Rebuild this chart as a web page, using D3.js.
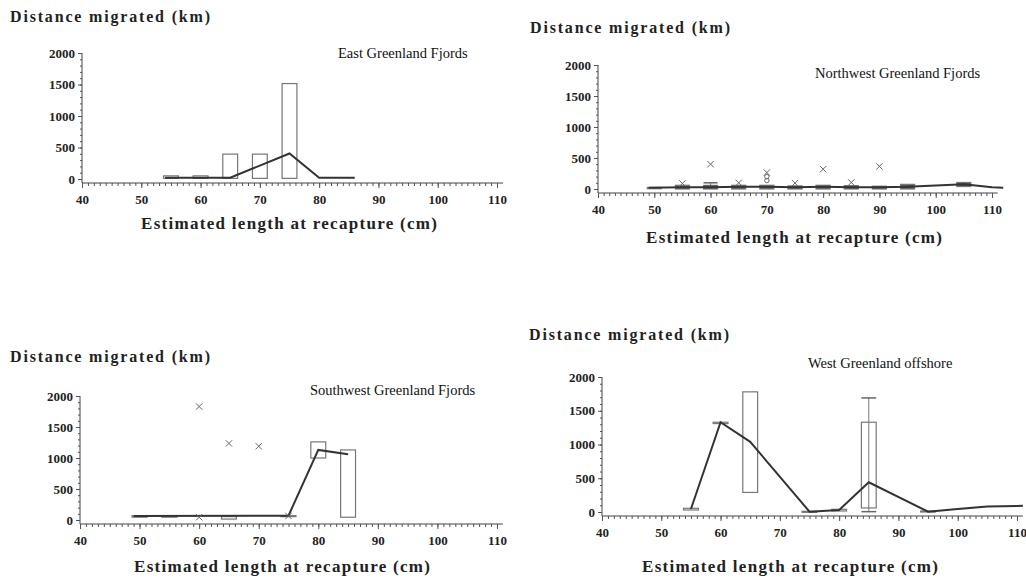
<!DOCTYPE html>
<html>
<head>
<meta charset="utf-8">
<script src="https://cdnjs.cloudflare.com/ajax/libs/d3/7.8.5/d3.min.js"></script>
<style>
body { margin: 0; background: #fff; }
text { font-family: "Liberation Serif", "DejaVu Serif", serif; }
</style>
</head>
<body>
<div id="chart"></div>
<script>
// ticks shared by the four panels
var length_ticks = [40, 50, 60, 70, 80, 90, 100, 110];
var distance_ticks = [0, 500, 1000, 1500, 2000];

// East Greenland Fjords
var east_box_len  = [55, 60, 65, 70, 75];
var east_box_low  = [10, 10, 10, 10, 10];
var east_box_high = [50, 50, 395, 395, 1515];
var east_line_len = [54, 65, 75, 80, 86];
var east_line_val = [20, 20, 405, 20, 20];

// Northwest Greenland Fjords
var nw_box_len  = [50, 55, 60, 65, 70, 75, 80, 85, 90, 95, 105];
var nw_box_low  = [5, 0, 0, 0, 0, 0, 0, 0, 0, 0, 40];
var nw_box_high = [25, 60, 55, 60, 60, 50, 60, 55, 45, 75, 105];
var nw_line_len = [49, 55, 60, 65, 70, 75, 80, 85, 90, 95, 100, 105, 110, 112];
var nw_line_val = [20, 30, 30, 35, 35, 30, 35, 30, 30, 35, 55, 75, 30, 20];
var nw_whisk_len  = [60];
var nw_whisk_low  = [55];
var nw_whisk_high = [100];
var nw_out_len = [55, 60, 65, 70, 75, 80, 85, 90];
var nw_out_val = [90, 400, 100, 265, 95, 320, 105, 365];
var nw_circ_len = [70, 70];
var nw_circ_val = [200, 135];

// Southwest Greenland Fjords
var sw_box_len  = [50, 55, 65, 75, 80, 85];
var sw_box_low  = [45, 45, 15, 60, 1000, 45];
var sw_box_high = [70, 70, 55, 70, 1260, 1130];
var sw_line_len = [49, 75, 80, 85];
var sw_line_val = [65, 70, 1130, 1060];
var sw_out_len = [60, 65, 70, 60, 75];
var sw_out_val = [1830, 1235, 1190, 45, 65];

// West Greenland offshore
var w_box_len  = [55, 60, 65, 75, 80, 85, 95];
var w_box_low  = [30, 1310, 290, 0, 15, 60, 0];
var w_box_high = [55, 1330, 1780, 10, 40, 1330, 15];
var w_whisk_len  = [85];
var w_whisk_low  = [5];
var w_whisk_high = [1690];
var w_line_len = [55, 60, 65, 75, 80, 85, 95, 100, 105, 110, 111];
var w_line_val = [45, 1330, 1040, 5, 30, 440, 5, 45, 80, 90, 93];

var svg = d3.select('#chart')
            .append('svg')
            .attr('width', 1026)
            .attr('height', 582);

var panels = [
  { title: 'East Greenland Fjords', x40: 82, x110: 497, y0: 179, y2000: 53,
    ylab: [10, 22], tit: [338, 58], xlab: [289, 229],
    box_len: east_box_len, box_low: east_box_low, box_high: east_box_high,
    line_len: east_line_len, line_val: east_line_val, box_fill: 'none' },
  { title: 'Northwest Greenland Fjords', x40: 598, x110: 992, y0: 189, y2000: 65,
    ylab: [530, 33], tit: [815, 78], xlab: [794, 243],
    box_len: nw_box_len, box_low: nw_box_low, box_high: nw_box_high,
    line_len: nw_line_len, line_val: nw_line_val,
    whisk_len: nw_whisk_len, whisk_low: nw_whisk_low, whisk_high: nw_whisk_high,
    out_len: nw_out_len, out_val: nw_out_val,
    circ_len: nw_circ_len, circ_val: nw_circ_val, box_fill: '#555' },
  { title: 'Southwest Greenland Fjords', x40: 80, x110: 497, y0: 520, y2000: 396,
    ylab: [10, 362], tit: [310, 395], xlab: [282, 572],
    box_len: sw_box_len, box_low: sw_box_low, box_high: sw_box_high,
    line_len: sw_line_len, line_val: sw_line_val,
    out_len: sw_out_len, out_val: sw_out_val, box_fill: 'none' },
  { title: 'West Greenland offshore', x40: 602, x110: 1017, y0: 512, y2000: 377,
    ylab: [529, 340], tit: [808, 368], xlab: [790, 572],
    box_len: w_box_len, box_low: w_box_low, box_high: w_box_high,
    line_len: w_line_len, line_val: w_line_val,
    whisk_len: w_whisk_len, whisk_low: w_whisk_low, whisk_high: w_whisk_high,
    box_fill: 'none' }
];

var half = 1.25; // half width of a box, in cm

panels.forEach(function(p) {
  var x = d3.scaleLinear().domain([40, 110]).range([p.x40, p.x110]);
  var y = d3.scaleLinear().domain([0, 2000]).range([p.y0, p.y2000]);
  var axis_y = p.y0 + 4;
  var g = svg.append('g');

  // x axis: minor ticks every cm, labels every 10
  g.append('g')
   .attr('transform', 'translate(0,' + axis_y + ')')
   .call(d3.axisBottom(x).tickValues(d3.range(40, 111, 1)).tickSize(3).tickFormat('').tickSizeOuter(0))
   .call(function(a) { a.select('.domain').remove(); });
  g.append('g')
   .attr('class', 'xmaj')
   .attr('transform', 'translate(0,' + axis_y + ')')
   .call(d3.axisBottom(x).tickValues(length_ticks).tickFormat(d3.format('d'))
           .tickSize(5).tickPadding(7).tickSizeOuter(0))
   .call(function(a) { a.select('.domain').remove(); });
  g.append('line')
   .attr('x1', x(40)).attr('x2', x(111))
   .attr('y1', axis_y).attr('y2', axis_y)
   .attr('stroke', '#444');

  // y axis
  g.append('g')
   .attr('transform', 'translate(' + x(40) + ',0)')
   .call(d3.axisLeft(y).tickValues(d3.range(0, 2001, 100)).tickSize(2).tickFormat('').tickSizeOuter(0))
   .call(function(a) { a.select('.domain').remove(); });
  g.append('g')
   .attr('class', 'ymaj')
   .attr('transform', 'translate(' + x(40) + ',0)')
   .call(d3.axisLeft(y).tickValues(distance_ticks).tickFormat(d3.format('d'))
           .tickSize(4).tickPadding(3).tickSizeOuter(0))
   .call(function(a) { a.select('.domain').remove(); });
  g.append('line')
   .attr('x1', x(40)).attr('x2', x(40))
   .attr('y1', y(2000)).attr('y2', axis_y)
   .attr('stroke', '#444');

  g.selectAll('.tick line').attr('stroke', '#555');
  g.selectAll('.xmaj text, .ymaj text')
   .attr('font-family', '"Liberation Serif", serif')
   .attr('font-size', 13)
   .attr('font-weight', 'bold')
   .attr('fill', '#222');

  // boxes
  g.selectAll('rect.box')
   .data(p.box_len)
   .enter()
   .append('rect')
   .attr('class', 'box')
   .attr('x', function(d) { return x(d - half); })
   .attr('width', function(d) { return x(d + half) - x(d - half); })
   .attr('y', function(d, i) { return y(p.box_high[i]); })
   .attr('height', function(d, i) { return Math.max(1, y(p.box_low[i]) - y(p.box_high[i])); })
   .attr('fill', p.box_fill)
   .attr('stroke', '#777')
   .attr('stroke-width', 1.2);

  // whiskers with caps
  (p.whisk_len || []).forEach(function(d, i) {
    g.append('line')
     .attr('x1', x(d)).attr('x2', x(d))
     .attr('y1', y(p.whisk_low[i])).attr('y2', y(p.whisk_high[i]))
     .attr('stroke', '#777');
    [p.whisk_low[i], p.whisk_high[i]].forEach(function(v) {
      g.append('line')
       .attr('x1', x(d - half)).attr('x2', x(d + half))
       .attr('y1', y(v)).attr('y2', y(v))
       .attr('stroke', '#666').attr('stroke-width', 1.5);
    });
  });

  // line through the class means
  var pts = p.line_len.map(function(d, i) { return [d, p.line_val[i]]; });
  g.append('path')
   .datum(pts)
   .attr('d', d3.line().x(function(d) { return x(d[0]); }).y(function(d) { return y(d[1]); }))
   .attr('fill', 'none')
   .attr('stroke', '#333')
   .attr('stroke-width', 2);

  // outliers
  g.selectAll('path.out')
   .data(p.out_len || [])
   .enter()
   .append('path')
   .attr('class', 'out')
   .attr('d', d3.symbol().type(d3.symbolTimes).size(28))
   .attr('transform', function(d, i) { return 'translate(' + x(d) + ',' + y(p.out_val[i]) + ')'; })
   .attr('fill', 'none')
   .attr('stroke', '#666');
  g.selectAll('circle.out')
   .data(p.circ_len || [])
   .enter()
   .append('circle')
   .attr('class', 'out')
   .attr('cx', function(d) { return x(d); })
   .attr('cy', function(d, i) { return y(p.circ_val[i]); })
   .attr('r', 2.2)
   .attr('fill', 'none')
   .attr('stroke', '#666');

  // texts
  g.append('text')
   .text('Distance migrated (km)')
   .attr('x', p.ylab[0]).attr('y', p.ylab[1])
   .attr('font-size', 16).attr('font-weight', 'bold').attr('fill', '#222')
   .attr('textLength', 200).attr('lengthAdjust', 'spacing');
  g.append('text')
   .text('Estimated length at recapture (cm)')
   .attr('x', p.xlab[0] - 148).attr('y', p.xlab[1])
   .attr('font-size', 17).attr('font-weight', 'bold').attr('fill', '#222')
   .attr('textLength', 296).attr('lengthAdjust', 'spacing');
  g.append('text')
   .text(p.title)
   .attr('x', p.tit[0]).attr('y', p.tit[1])
   .attr('font-size', 14.5).attr('fill', '#111');
});
</script>
</body>
</html>
